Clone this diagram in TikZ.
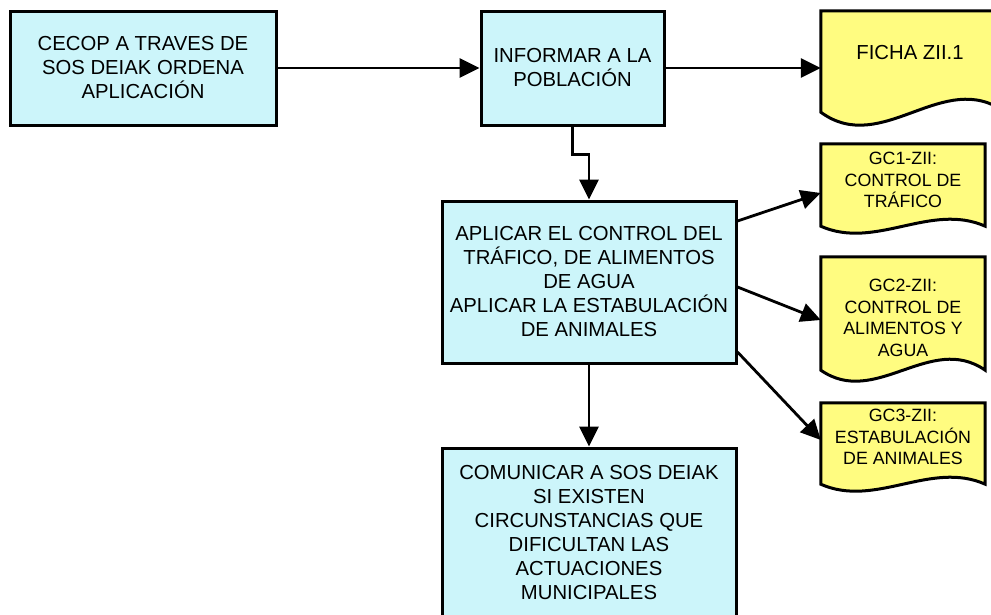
\documentclass[tikz,border=0pt]{standalone}
\usepackage{fontspec}
\setmainfont{Liberation Sans}
\usepackage{xcolor}
\usepackage{tikz}
\usetikzlibrary{arrows.meta,positioning,backgrounds,calc}
\definecolor{boxcyan}{RGB}{204,245,250}
\definecolor{docyellow}{RGB}{255,252,128}

\begin{document}
\begin{tikzpicture}[x=1pt, y=-1pt,
  stepbox/.style={draw=black, line width=3pt, fill=boxcyan, align=center, inner sep=0pt, font=\fontsize{20.3}{24}\selectfont},
  docbox/.style={inner sep=0pt, minimum width=#1},
  doctext/.style={align=center, inner sep=0pt, font=\fontsize{17.8}{21.5}\selectfont},
  conn/.style={line width=2.8pt, -{Triangle[length=20pt,width=19pt]}}
]
\clip (0,0) rectangle (991,614);

% process boxes
\node[stepbox, minimum width=266pt, minimum height=114pt] (cecop) at (143,68) {CECOP A TRAVES DE\\SOS DEIAK ORDENA\\APLICACIÓN};
\node[stepbox, minimum width=183pt, minimum height=114pt] (informar) at (572.5,68) {INFORMAR A LA\\POBLACIÓN};
\node[stepbox, minimum width=294pt, minimum height=162pt] (aplicar) at (589,282) {APLICAR EL CONTROL DEL\\TRÁFICO, DE ALIMENTOS\\DE AGUA\\APLICAR LA ESTABULACIÓN\\DE ANIMALES};
\node[stepbox, minimum width=294pt, minimum height=170pt] (comunicar) at (589,533) {COMUNICAR A SOS DEIAK\\SI EXISTEN\\CIRCUNSTANCIAS QUE\\DIFICULTAN LAS\\ACTUACIONES\\MUNICIPALES};

% documents
\node[docbox=184pt, minimum height=101pt] (ficha) at (913,61.5) {};
\node[docbox=164pt, minimum height=82pt] (gca) at (903,185) {};
\node[docbox=164pt, minimum height=113pt] (gcb) at (903,313.5) {};
\node[docbox=164pt, minimum height=81pt] (gcc) at (903,443.5) {};
\begin{scope}[on background layer]
  \foreach \nm/\w/\amp in {ficha/184/13, gca/164/7, gcb/164/11, gcc/164/7} {
    \draw[line width=3pt, fill=docyellow] (\nm.north west) -- (\nm.north east) -- (\nm.south east)
      .. controls +(-\w/3,-3.46*\amp) and +(\w/3,3.46*\amp) .. (\nm.south west) -- cycle;
  }
\end{scope}
\node[doctext, font=\fontsize{20.3}{24}\selectfont] (fichatxt) at (910,53) {FICHA ZII.1};
\node[doctext] (gcatxt) at (903,180) {GC1-ZII:\\CONTROL DE\\TRÁFICO};
\node[doctext] (gcbtxt) at (903,318) {GC2-ZII:\\CONTROL DE\\ALIMENTOS Y\\AGUA};
\node[doctext] (gcctxt) at (903,437) {GC3-ZII:\\ESTABULACIÓN\\DE ANIMALES};

% connectors
\draw[conn] (cecop) -- (informar);
\draw[conn] (informar.east) -- (informar.east -| ficha.west);
\draw[conn] (informar.south) -- ++(0,28) -| (aplicar.north);
\draw[conn] ([yshift=61pt]aplicar.east) -- ([yshift=-8pt]gca.west);
\draw[conn] ([yshift=-5pt]aplicar.east) -- ([yshift=-6.5pt]gcb.west);
\draw[conn] ([yshift=-70pt]aplicar.east) -- ([yshift=3.5pt]gcc.west);
\draw[conn] (aplicar) -- (comunicar);
\end{tikzpicture}
\end{document}
